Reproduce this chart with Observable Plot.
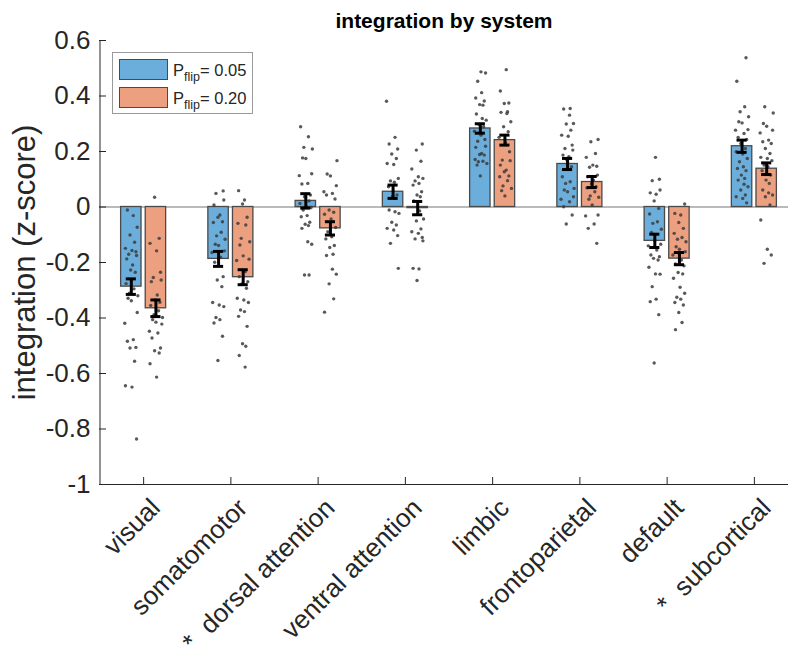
<!DOCTYPE html>
<html><head><meta charset="utf-8">
<script src="https://cdn.jsdelivr.net/npm/d3@7"></script>
<script src="https://cdn.jsdelivr.net/npm/@observablehq/plot@0.6"></script>
<style>
body{margin:0;background:#fff;}
#wrap{position:relative;width:788px;height:661px;font-family:"Liberation Sans",Arial,Helvetica,sans-serif;overflow:hidden;}
#wrap svg{overflow:hidden;}
.legend{position:absolute;left:112px;top:52px;width:141px;height:62px;border:1px solid #9a9a9a;background:#fff;box-sizing:border-box;}
.item{position:absolute;left:6px;height:21px;display:flex;align-items:center;}
.sw{width:49px;height:21px;box-sizing:border-box;border:1px solid #4a4a4a;margin-right:5px;}
.lab{font-size:16.5px;color:#262626;white-space:nowrap;line-height:16px;}
.lab sub{font-size:12.5px;vertical-align:-5px;line-height:0;}
</style></head>
<body>
<div id="wrap"></div>
<script>
const title = "integration by system";
const yLabel = "integration (z-score)";
const categories = ["visual","somatomotor","dorsal attention","ventral attention","limbic","frontoparietal","default","subcortical"];
const xTickLabels = ["visual","somatomotor","*\u00a0\u00a0dorsal attention","ventral attention","limbic","frontoparietal","default","*\u00a0\u00a0subcortical"];
const series = ["0.05","0.20"];
const colors = ["#6caedb","#eda07f"];
const yTicks = [-1,-0.8,-0.6,-0.4,-0.2,0,0.2,0.4,0.6];
const yTickLabels = ["-1","-0.8","-0.6","-0.4","-0.2","0","0.2","0.4","0.6"];

// bar means and standard errors per category
const mean05 = [-0.287,-0.187,0.022,0.055,0.283,0.155,-0.122,0.219];
const sem05  = [0.028,0.027,0.026,0.024,0.017,0.020,0.024,0.022];
const mean20 = [-0.365,-0.253,-0.077,-0.004,0.241,0.090,-0.186,0.138];
const sem20  = [0.030,0.027,0.024,0.024,0.018,0.020,0.022,0.021];

// individual subject values (P_flip = 0.05)
const visual05 = [-0.011,-0.031,-0.073,-0.101,-0.127,-0.149,-0.157,-0.161,-0.170,-0.175,-0.187,-0.209,-0.227,-0.235,-0.276,-0.295,-0.311,-0.320,-0.329,-0.338,-0.380,-0.419,-0.478,-0.484,-0.506,-0.508,-0.556,-0.644,-0.649,-0.836];
const somato05 = [0.058,0.049,0.025,0.007,-0.029,-0.037,-0.053,-0.056,-0.091,-0.104,-0.116,-0.134,-0.139,-0.158,-0.164,-0.181,-0.199,-0.251,-0.263,-0.287,-0.344,-0.353,-0.359,-0.398,-0.406,-0.418,-0.466,-0.553];
const dorsal05 = [0.289,0.253,0.215,0.209,0.177,0.175,0.120,0.113,0.085,0.083,0.043,0.037,0.022,0.013,0.001,-0.002,-0.011,-0.031,-0.035,-0.055,-0.062,-0.067,-0.077,-0.125,-0.134,-0.245,-0.245];
const ventral05 = [0.381,0.251,0.227,0.209,0.191,0.175,0.157,0.153,0.103,0.094,0.089,0.073,0.043,0.037,0.031,-0.011,-0.017,-0.023,-0.055,-0.065,-0.077,-0.083,-0.103,-0.131,-0.221];
const limbic05 = [0.487,0.483,0.453,0.412,0.393,0.382,0.369,0.367,0.335,0.319,0.313,0.297,0.289,0.273,0.259,0.243,0.237,0.219,0.215,0.193,0.189,0.187,0.171,0.165,0.163,0.157,0.151,0.112];
const fronto05 = [0.355,0.353,0.331,0.301,0.299,0.277,0.259,0.255,0.223,0.211,0.205,0.187,0.181,0.169,0.145,0.109,0.091,0.085,0.067,0.061,0.055,0.037,0.028,0.019,0.001,-0.029,-0.061];
const default05 = [0.179,0.100,0.095,0.061,0.051,0.046,0.022,-0.005,-0.025,-0.053,-0.059,-0.080,-0.092,-0.121,-0.134,-0.140,-0.155,-0.173,-0.179,-0.185,-0.191,-0.217,-0.241,-0.242,-0.287,-0.332,-0.341,-0.388,-0.562];
const subcort05 = [0.538,0.453,0.361,0.343,0.325,0.307,0.303,0.279,0.277,0.265,0.251,0.243,0.229,0.211,0.199,0.191,0.175,0.163,0.145,0.139,0.131,0.115,0.103,0.097,0.082,0.073,0.061,0.043,0.037,0.031,0.015];

// individual subject values (P_flip = 0.20)
const visual20 = [0.035,-0.113,-0.131,-0.158,-0.235,-0.254,-0.263,-0.269,-0.317,-0.335,-0.343,-0.355,-0.374,-0.388,-0.398,-0.406,-0.415,-0.422,-0.448,-0.454,-0.472,-0.508,-0.518,-0.526,-0.565,-0.613];
const somato20 = [0.059,0.025,0.011,-0.037,-0.059,-0.065,-0.113,-0.125,-0.137,-0.176,-0.188,-0.193,-0.233,-0.251,-0.269,-0.277,-0.293,-0.329,-0.335,-0.344,-0.371,-0.377,-0.394,-0.430,-0.493,-0.502,-0.535,-0.577];
const dorsal20 = [0.167,0.119,0.112,0.077,0.055,0.049,0.043,0.029,-0.011,-0.019,-0.026,-0.043,-0.074,-0.089,-0.107,-0.115,-0.139,-0.146,-0.170,-0.175,-0.224,-0.242,-0.277,-0.331,-0.379];
const ventral20 = [0.227,0.205,0.165,0.137,0.109,0.103,0.094,0.085,0.079,0.055,0.043,0.037,0.022,-0.014,-0.043,-0.050,-0.079,-0.089,-0.095,-0.110,-0.115,-0.122,-0.221,-0.223,-0.265];
const limbic20 = [0.495,0.418,0.375,0.373,0.343,0.341,0.337,0.307,0.289,0.271,0.251,0.231,0.199,0.169,0.167,0.151,0.133,0.127,0.112,0.109,0.095,0.076,0.067,0.059,0.040];
const fronto20 = [0.243,0.235,0.193,0.179,0.151,0.147,0.143,0.115,0.109,0.097,0.083,0.073,0.069,0.055,0.040,0.035,0.028,0.007,-0.029,-0.032,-0.061,-0.077,-0.131];
const default20 = [0.011,-0.023,-0.029,-0.056,-0.077,-0.095,-0.110,-0.116,-0.125,-0.143,-0.152,-0.161,-0.173,-0.191,-0.205,-0.212,-0.236,-0.241,-0.257,-0.289,-0.311,-0.325,-0.332,-0.344,-0.353,-0.380,-0.416,-0.442];
const subcort20 = [0.361,0.339,0.301,0.291,0.277,0.267,0.241,0.235,0.229,0.211,0.193,0.179,0.175,0.167,0.151,0.145,0.131,0.115,0.097,0.085,0.061,0.051,0.043,0.037,0.007,-0.047,-0.152,-0.173,-0.203];

// horizontal scatter of the subject dots (fraction of half jitter width)
const jitter = [-0.6,0.3,0.9,-0.2,0.5,-0.9,0.1,0.7,-0.4,0.8,-0.7,0.2,-0.1,0.6,-0.8,0.4,-0.3,1.0,-0.5,0.0,0.9,-1.0,0.3,-0.6,0.7,-0.2,0.5,-0.9,0.1,0.8,-0.4,0.2,-0.7,0.6,-0.1,0.4];

const dotLists = [
  [visual05,somato05,dorsal05,ventral05,limbic05,fronto05,default05,subcort05],
  [visual20,somato20,dorsal20,ventral20,limbic20,fronto20,default20,subcort20]
];
const means = [mean05, mean20];
const sems = [sem05, sem20];

const offset = [-0.141, 0.141];
const barHalf = 0.117;
const capHalf = 0.058;
const jitterW = 0.075;

const bars = [];
const dots = [];
categories.forEach((c, i) => {
  series.forEach((s, k) => {
    bars.push({i, k, series: s, mean: means[k][i], sem: sems[k][i]});
    dotLists[k][i].forEach((v, j) => dots.push({x: i + offset[k] + jitter[(j + 7*i + 3*k) % jitter.length] * jitterW, y: v}));
  });
});
const idx = categories.map((c, i) => i);

const chart = Plot.plot({
  width: 788, height: 661,
  marginLeft: 99, marginRight: 0, marginTop: 40, marginBottom: 177,
  style: {fontFamily: "'Liberation Sans', Arial, Helvetica, sans-serif", fontSize: "26px", color: "#262626", background: "white"},
  x: {domain: [-0.5, 7.5], range: [99.5, 797.5], axis: null},
  y: {domain: [-1, 0.6], axis: null},
  color: {domain: series, range: colors},
  marks: [
    Plot.ruleY([0], {stroke: "#a3a3a3", strokeWidth: 1.6}),
    Plot.rect(bars, {x1: d => d.i + offset[d.k] - barHalf, x2: d => d.i + offset[d.k] + barHalf, y1: 0, y2: "mean", fill: "series", stroke: "#4a4a4a", strokeWidth: 1.3}),
    Plot.dot(dots, {x: "x", y: "y", r: 1.7, fill: "#3c3c3c", fillOpacity: 0.85}),
    Plot.ruleX(bars, {x: d => d.i + offset[d.k], y1: d => d.mean - d.sem, y2: d => d.mean + d.sem, stroke: "black", strokeWidth: 3}),
    Plot.ruleY(bars, {y: d => d.mean - d.sem, x1: d => d.i + offset[d.k] - capHalf, x2: d => d.i + offset[d.k] + capHalf, stroke: "black", strokeWidth: 3}),
    Plot.ruleY(bars, {y: d => d.mean + d.sem, x1: d => d.i + offset[d.k] - capHalf, x2: d => d.i + offset[d.k] + capHalf, stroke: "black", strokeWidth: 3}),
    Plot.ruleX([-0.5], {stroke: "#262626", strokeWidth: 1}),
    Plot.ruleY([-1], {stroke: "#262626", strokeWidth: 1}),
    Plot.axisY(yTicks, {tickSize: 0, tickPadding: 9, label: null, tickFormat: d => yTickLabels[yTicks.indexOf(d)], fontSize: 26, fill: "#262626"}),
    Plot.axisY(yTicks, {tickSize: -7, label: null, tickFormat: () => "", stroke: "#262626"}),
    Plot.axisX(idx, {tickSize: -7, label: null, tickFormat: () => "", stroke: "#262626"}),
    Plot.text(xTickLabels, {x: (d, i) => i, frameAnchor: "bottom", rotate: -45, textAnchor: "end", lineAnchor: "bottom", dx: 18, dy: 25, fontSize: 26, fill: "#262626"}),
    Plot.text([title], {frameAnchor: "top", lineAnchor: "bottom", dy: -13, fontSize: 21, fontWeight: "bold", fill: "black"}),
    Plot.text([yLabel], {frameAnchor: "left", rotate: -90, textAnchor: "middle", lineAnchor: "middle", dx: -74, fontSize: 31, fill: "#262626"})
  ]
});
const wrap = document.getElementById("wrap");
wrap.appendChild(chart);

// legend
const legend = document.createElement("div");
legend.className = "legend";
series.forEach((s, k) => {
  const item = document.createElement("div");
  item.className = "item";
  item.style.top = (k === 0 ? 6 : 34) + "px";
  item.innerHTML = `<div class="sw" style="background:${colors[k]}"></div><span class="lab">P<sub>flip</sub>= ${s}</span>`;
  legend.appendChild(item);
});
wrap.appendChild(legend);
</script>
</body></html>
